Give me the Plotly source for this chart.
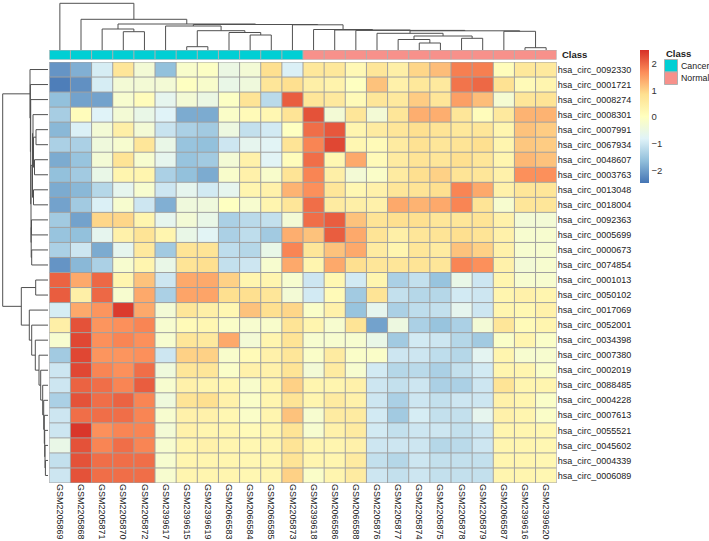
import plotly.graph_objects as go

# samples (columns) in dendrogram order and their class
samples = ["GSM2205869", "GSM2205868", "GSM2205871", "GSM2205870", "GSM2205872", "GSM2399617",
           "GSM2399615", "GSM2399619", "GSM2066583", "GSM2066584", "GSM2066585", "GSM2205873",
           "GSM2399618", "GSM2066586", "GSM2066588", "GSM2205876", "GSM2205877", "GSM2205874",
           "GSM2205875", "GSM2205878", "GSM2205879", "GSM2066587", "GSM2399616", "GSM2399620"]
sample_class = ["Cancer"] * 12 + ["Normal"] * 12

circ_ids = ["hsa_circ_0092330", "hsa_circ_0001721", "hsa_circ_0008274", "hsa_circ_0008301",
            "hsa_circ_0007991", "hsa_circ_0067934", "hsa_circ_0048607", "hsa_circ_0003763",
            "hsa_circ_0013048", "hsa_circ_0018004", "hsa_circ_0092363", "hsa_circ_0005699",
            "hsa_circ_0000673", "hsa_circ_0074854", "hsa_circ_0001013", "hsa_circ_0050102",
            "hsa_circ_0017069", "hsa_circ_0052001", "hsa_circ_0034398", "hsa_circ_0007380",
            "hsa_circ_0002019", "hsa_circ_0088485", "hsa_circ_0004228", "hsa_circ_0007613",
            "hsa_circ_0055521", "hsa_circ_0045602", "hsa_circ_0004339", "hsa_circ_0006089"]

# scaled expression, one row per circRNA
expr = [
    [-2.1, -1.8, -0.9, 0.7, -0.3, -1.6, -0.15, -0.05, -0.5, -0.3, 0.85, -0.85, 0.65, 0.65, 0.2, 0.7, 0.45, 0.95, 1.2, 1.8, 1.8, 0.1, 0.65, 0.6],
    [-2.35, -2.15, -0.9, -0.3, -0.3, -0.3, 0.0, -0.15, -0.55, -0.4, 0.7, 0.85, 0.45, 0.35, 0.0, 1.15, 0.4, 0.65, 0.6, 1.9, 2.0, 0.8, 0.15, 0.3],
    [-1.6, -1.95, -1.95, -0.2, 0.1, -0.65, -0.3, -0.5, -0.05, 0.75, -1.2, 2.1, 0.7, 0.6, 0.15, 0.7, 0.6, 1.05, 0.7, 1.5, 1.2, -0.25, 0.7, 0.75],
    [-1.4, 0.1, -0.8, -0.3, -0.55, -0.8, -1.85, -1.85, -0.1, 0.15, 0.25, 0.75, 2.2, -0.3, 0.7, -0.3, 0.7, 1.35, 1.35, 0.7, 0.1, 0.6, 1.3, 1.3],
    [-1.7, -0.85, -0.3, 0.45, -0.3, -1.05, -1.35, -1.45, -0.45, -1.1, -0.95, 0.0, 1.95, 2.15, 0.3, 0.55, 0.7, 0.85, 0.75, 0.65, 0.7, 0.3, 1.15, 1.05],
    [-1.35, -1.35, -0.4, -0.2, 0.7, -0.55, -1.55, -1.6, -1.0, -0.65, -0.75, 0.75, 1.75, 2.3, 0.25, 0.15, 0.55, 0.8, 0.7, 0.75, 0.85, 0.3, 1.1, 1.05],
    [-1.85, -1.55, -0.3, 0.75, -0.2, -0.65, -1.55, -1.45, -0.3, 0.4, -0.75, 0.1, 1.95, 0.25, 1.4, 0.15, 0.55, 0.75, 0.7, 0.85, 0.7, 0.3, 1.25, 1.15],
    [-1.6, -1.45, -0.55, 0.3, 0.3, -1.35, -1.6, -1.85, -0.15, 0.4, -0.15, 0.75, 1.75, 0.45, -0.3, -0.1, 0.55, 0.85, 1.0, 0.75, 0.7, 0.4, 1.65, 1.65],
    [-1.85, -1.7, -1.25, -0.65, -0.2, -1.0, -0.65, -0.95, -0.65, 0.3, 0.4, 1.3, 1.65, 0.7, 0.25, 0.4, 0.7, 0.75, 0.85, 1.75, 1.4, 0.4, 0.7, 0.7],
    [-1.95, -1.45, -0.85, -0.2, -1.0, -1.8, -0.4, -0.4, 0.0, -0.2, 0.3, 0.7, 1.95, 0.55, 0.45, 0.4, 1.4, 1.3, 1.4, 1.75, 0.75, -0.2, 0.7, 0.7],
    [-1.45, -1.95, 0.95, 0.95, 0.3, -0.65, -0.3, -0.55, -1.35, -1.2, -1.1, -0.3, 1.95, 2.1, 1.15, 0.75, 0.85, 0.85, 0.7, 0.7, 0.75, 0.4, -0.3, -0.3],
    [-1.55, -1.6, -0.65, 0.4, 0.75, 0.3, -0.55, -0.75, -1.35, -1.15, -1.45, 1.35, 1.15, 2.1, 1.4, 0.75, 0.45, 0.7, 0.75, 0.85, 0.75, 0.4, -0.2, -0.2],
    [-1.35, -1.0, -1.85, -0.65, 0.6, -1.45, 0.75, 0.75, -1.15, -1.25, -0.55, 1.75, 0.7, 1.15, 1.4, 0.55, 0.3, 0.7, 0.55, 1.15, 1.0, 0.4, -0.2, -0.2],
    [-2.1, -1.7, -1.35, -0.2, 0.3, -0.55, 0.75, 0.85, -1.1, -1.0, -0.2, 1.4, 0.3, 1.4, 0.85, 0.7, 0.7, 0.75, 0.7, 1.75, 1.65, 0.4, -0.3, -0.2],
    [2.05, 1.4, 2.0, 0.3, 1.15, -1.0, 1.4, 1.4, 1.0, 0.3, 0.3, -0.2, -1.0, 0.25, -0.95, 0.3, -1.35, -1.1, -1.55, -0.55, -1.0, 0.3, -0.2, -0.2],
    [2.1, 0.45, 2.0, -0.2, 1.4, -1.35, 1.45, 1.45, 0.85, 0.85, 0.7, -0.3, -0.95, 0.15, -1.45, 0.75, -1.1, -1.25, -1.25, -0.95, -1.0, 0.3, 0.4, 0.3],
    [-0.9, 1.4, 1.6, 2.4, 1.4, -0.3, 0.7, 0.45, 0.25, 1.15, 0.85, 0.95, -0.1, 0.4, -1.55, -0.65, -1.35, -1.15, -1.1, -0.65, -1.0, 0.3, 0.25, 0.4],
    [0.45, 2.2, 1.6, 1.65, 1.75, -0.2, 0.15, 0.25, -0.1, -0.2, -0.15, 0.75, 0.3, -0.2, 0.75, -1.95, -0.45, -1.35, -1.55, -1.35, -0.3, 0.7, 0.15, 0.3],
    [-0.2, 2.3, 1.65, 1.75, 1.65, -0.2, 0.7, 0.6, 1.4, -0.3, 0.3, 0.75, -0.2, -0.2, -0.2, -0.55, -1.45, -0.95, -1.0, -1.25, -1.45, -0.1, 0.3, -0.1],
    [-1.45, 2.3, 1.6, 1.6, 1.65, -1.0, 1.0, 1.0, -0.15, 0.15, 0.4, 0.7, -0.1, 0.55, -0.1, -0.1, -1.0, -1.0, -1.15, -1.25, -0.7, 0.3, -0.2, -0.2],
    [-1.0, 2.3, 1.75, 1.65, 1.95, -0.4, 0.7, 0.7, -0.1, 0.4, 0.4, 0.75, -0.3, 0.55, -0.2, -0.95, -1.25, -1.2, -1.35, -1.1, -0.95, 0.3, 0.3, -0.1],
    [-1.0, 2.05, 1.95, 1.75, 2.1, -0.2, 0.4, 0.3, 0.25, -0.15, 0.3, 1.0, 0.3, 0.3, 0.4, -1.0, -1.1, -1.0, -1.35, -1.35, -1.0, 0.75, 0.3, 0.3],
    [-1.35, 2.2, 1.95, 2.05, 1.75, -0.4, 0.75, 0.85, 0.4, -0.1, 0.3, 0.75, 0.3, 0.55, 0.4, -1.0, -1.35, -1.0, -1.1, -1.0, -1.0, 0.4, 0.3, -0.1],
    [-1.0, 1.95, 1.95, 1.95, 1.75, -0.2, 0.4, 0.4, 0.25, -0.1, 0.3, 1.15, -0.2, 0.55, 0.55, -0.95, -1.45, -0.9, -1.1, -1.1, -0.65, 0.4, 0.3, -0.1],
    [-1.0, 2.45, 1.65, 1.75, 1.75, -0.3, 0.4, 0.3, 0.3, 0.15, 0.3, 0.75, -0.2, 0.4, 0.55, -0.95, -1.1, -1.0, -1.0, -1.1, -1.0, 0.3, 0.3, 0.25],
    [-0.55, 2.2, 1.75, 1.95, 1.75, -0.2, 0.3, 0.4, 0.3, 0.25, 0.3, 0.75, 0.3, 0.3, 0.4, -1.0, -1.0, -1.0, -1.25, -1.2, -1.0, 0.3, 0.3, 0.25],
    [-1.1, 2.2, 1.95, 1.95, 1.95, -0.2, 0.3, 0.3, 0.3, 0.25, 0.3, 0.75, 0.3, 0.3, 0.55, -1.1, -1.25, -1.0, -1.1, -1.1, -1.1, 0.3, 0.3, 0.25],
    [-1.0, 2.2, 1.95, 1.95, 1.95, -0.2, 0.3, 0.3, 0.3, 0.25, 0.3, 1.0, -0.1, 0.3, 0.55, -1.0, -1.1, -1.0, -1.1, -1.1, -1.1, 0.3, 0.3, 0.25],
]

# hierarchical clustering merges: (left, right, height); ids >= n are earlier merges
col_merges = [(3, 4, 18.3), (2, 24, 21), (6, 7, 3.3), (9, 10, 15), (8, 27, 17.5), (26, 28, 19.3),
              (5, 29, 24), (17, 18, 7), (16, 31, 10.5), (19, 20, 11.7), (32, 33, 14), (15, 34, 16.7),
              (22, 23, 2.3), (21, 36, 18.7), (35, 37, 19.2), (14, 38, 19.6), (13, 39, 20.0),
              (12, 40, 20.5), (11, 41, 25.2), (30, 42, 25.5), (25, 43, 26.0), (1, 44, 30.7), (0, 45, 46.7)]
row_merges = [(4, 5, 12), (6, 7, 13.5), (28, 29, 14.5), (3, 30, 15), (8, 9, 14.5), (31, 32, 15.5),
              (10, 11, 16.5), (12, 13, 16.3), (34, 35, 16.8), (33, 36, 17), (2, 37, 17.3), (1, 38, 17.6),
              (0, 39, 18), (14, 15, 12.3), (26, 27, 2.6), (25, 42, 3.0), (24, 43, 3.3), (23, 44, 3.7),
              (22, 45, 4.3), (21, 46, 5.3), (20, 47, 7.3), (19, 48, 9), (18, 49, 12.7), (17, 50, 16.3),
              (16, 51, 18.7), (41, 52, 26.7), (40, 53, 45.3)]

palette = ["#4575B4", "#91BFDB", "#E0F3F8", "#FFFFBF", "#FEE090", "#FC8D59", "#D73027"]
class_colors = {"Cancer": "#00CFD4", "Normal": "#F7918B"}
W, H = 709, 541


def dendro(n, merges):
    pos = list(range(n))
    hgt = [0.0] * n
    p, h = [], []
    for a, b, ht in merges:
        p += [pos[a], pos[a], pos[b], pos[b], None]
        h += [hgt[a], ht, ht, hgt[b], None]
        pos.append((pos[a] + pos[b]) / 2)
        hgt.append(ht)
    return p, h


nr, nc = len(circ_ids), len(samples)
fig = go.Figure()

cs = [[i / (len(palette) - 1), c] for i, c in enumerate(palette)]
fig.add_trace(go.Heatmap(
    z=expr, x=list(range(nc)), y=list(range(nr)), colorscale=cs, zmin=-2.45, zmax=2.5,
    xaxis="x", yaxis="y",
    colorbar=dict(x=639.5 / W, xanchor="left", y=1 - 50 / H, yanchor="top",
                  lenmode="pixels", len=133, thickness=8.5, xpad=0, ypad=0,
                  outlinewidth=0, ticks="", tickvals=[-2, -1, 0, 1, 2],
                  tickfont=dict(size=9.5, color="#333333", family="Liberation Sans"))))

# grid lines around cells
gx, gy = [], []
for k in range(nc + 1):
    gx += [k - 0.5, k - 0.5, None]
    gy += [-0.5, nr - 0.5, None]
for k in range(nr + 1):
    gx += [-0.5, nc - 0.5, None]
    gy += [k - 0.5, k - 0.5, None]
fig.add_trace(go.Scatter(x=gx, y=gy, mode="lines", line=dict(color="#a0a0a0", width=1),
                         hoverinfo="skip", xaxis="x", yaxis="y"))

# class annotation bar
cls_z = [[0 if c == "Cancer" else 1 for c in sample_class]]
fig.add_trace(go.Heatmap(z=cls_z, x=list(range(nc)), y=[0], xaxis="x", yaxis="y2", showscale=False,
                         colorscale=[[0, class_colors["Cancer"]], [0.5, class_colors["Cancer"]],
                                     [0.5, class_colors["Normal"]], [1, class_colors["Normal"]]],
                         zmin=0, zmax=1, hoverinfo="skip"))
bx, by = [], []
for k in range(nc + 1):
    bx += [k - 0.5, k - 0.5, None]
    by += [-0.5, 0.5, None]
for v in (-0.5, 0.5):
    bx += [-0.5, nc - 0.5, None]
    by += [v, v, None]
fig.add_trace(go.Scatter(x=bx, y=by, mode="lines", line=dict(color="#b0b0b0", width=1),
                         hoverinfo="skip", xaxis="x", yaxis="y2"))

# dendrograms
cp, ch = dendro(nc, col_merges)
fig.add_trace(go.Scatter(x=cp, y=ch, mode="lines", line=dict(color="#505050", width=1),
                         hoverinfo="skip", xaxis="x", yaxis="y3"))
rp, rh = dendro(nr, row_merges)
fig.add_trace(go.Scatter(x=rh, y=rp, mode="lines", line=dict(color="#505050", width=1),
                         hoverinfo="skip", xaxis="x2", yaxis="y"))

font = dict(family="Liberation Sans", size=9, color="#222222")
fig.update_layout(
    width=W, height=H, margin=dict(l=0, r=0, t=0, b=0), showlegend=False,
    paper_bgcolor="white", plot_bgcolor="white", font=font,
    xaxis=dict(domain=[49.3 / W, 556.7 / W], range=[-0.5, nc - 0.5], anchor="y",
               tickvals=list(range(nc)), ticktext=samples, tickangle=90, ticks="",
               showgrid=False, zeroline=False, showline=False, tickfont=font),
    yaxis=dict(domain=[1 - 483 / H, 1 - 62 / H], range=[nr - 0.5, -0.5], anchor="x", side="right",
               tickvals=list(range(nr)), ticktext=circ_ids, ticks="",
               showgrid=False, zeroline=False, showline=False, tickfont=font),
    yaxis2=dict(domain=[1 - 59.5 / H, 1 - 50 / H], range=[-0.5, 0.5], anchor="x", visible=False),
    yaxis3=dict(domain=[1 - 50 / H, 1], range=[0, 50], anchor="x", visible=False),
    xaxis2=dict(domain=[0, 48 / W], range=[48, 0], anchor="y", visible=False),
)

# annotation name and class legend
fig.add_annotation(x=560 / W, y=1 - 55 / H, xref="paper", yref="paper", xanchor="left",
                   yanchor="middle", text="<b>Class</b>", showarrow=False,
                   font=dict(family="Liberation Sans", size=9.5, color="#222222"))
fig.add_annotation(x=663.5 / W, y=1 - 53 / H, xref="paper", yref="paper", xanchor="left",
                   yanchor="middle", text="<b>Class</b>", showarrow=False,
                   font=dict(family="Liberation Sans", size=9.5, color="#222222"))
for i, name in enumerate(["Cancer", "Normal"]):
    top = 59.5 + 12.5 * i
    fig.add_shape(type="rect", xref="paper", yref="paper", x0=664.5 / W, x1=677.5 / W,
                  y0=1 - (top + 12.5) / H, y1=1 - top / H, fillcolor=class_colors[name],
                  line=dict(color="#b0b0b0", width=1))
    fig.add_annotation(x=678.5 / W, y=1 - (top + 6.25) / H, xref="paper", yref="paper",
                       xanchor="left", yanchor="middle", text=name, showarrow=False,
                       font=dict(family="Liberation Sans", size=8.8, color="#222222"))

# page body has a default margin; drop it so the figure fills the window
fig.write_html("out.html", config={"displayModeBar": False},
               post_script="document.body.style.margin='0';")
